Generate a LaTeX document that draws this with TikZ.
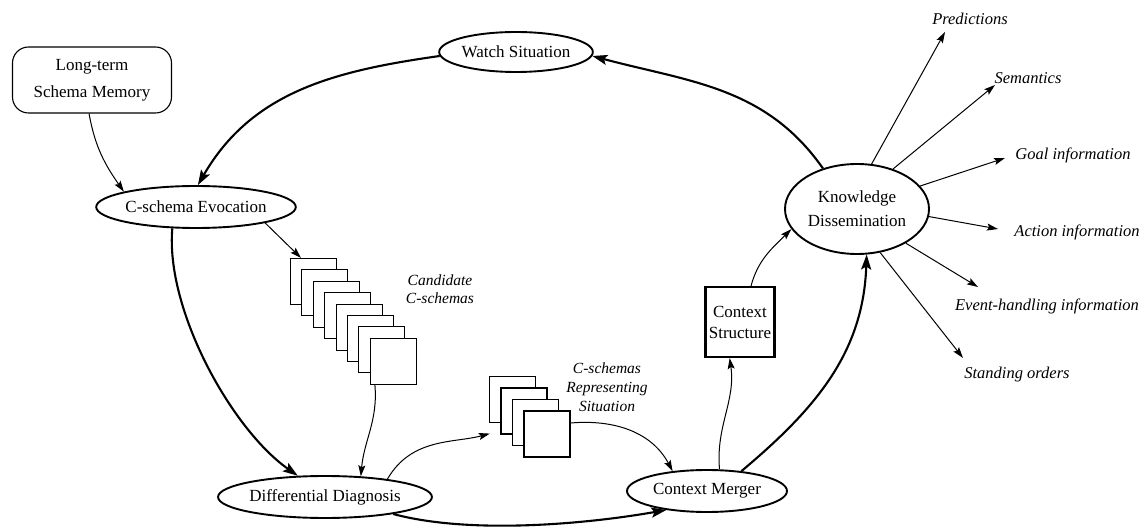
\documentclass[tikz,border=0pt]{standalone}
\usepackage{fontspec}
\setmainfont{Liberation Serif}
\usetikzlibrary{shapes.geometric,arrows.meta}
\begin{document}
\begin{tikzpicture}[x=1pt,y=-1pt,
  proc/.style={ellipse,draw,line width=1.9pt,inner sep=0pt,font=\fontsize{17}{20}\selectfont},
  sq/.style={draw,fill=white,line width=1.1pt,minimum width=46pt,minimum height=46pt,inner sep=0pt},
  lab/.style={font=\fontsize{16.5}{20}\selectfont\itshape,inner sep=0pt},
  cyc/.style={line width=2.1pt,-{Stealth[length=15pt,width=10pt,inset=3pt]}},
  thin/.style={line width=1pt,-{Stealth[length=11pt,width=7pt,inset=2pt]}}
]
\useasboundingbox (0,0) rectangle (1146,529);
% nodes
\node[draw,rounded corners=16pt,line width=1.1pt,minimum width=159pt,minimum height=66pt,align=center,font=\fontsize{17}{27}\selectfont] (lt) at (92,80) {Long-term\\Schema Memory};
\node[proc,minimum width=182pt,minimum height=42pt] (ce) at (196,207) {C-schema Evocation};
\node[proc,minimum width=152pt,minimum height=40pt] (ws) at (516,52) {Watch Situation};
\node[proc,minimum width=144pt,minimum height=90pt,align=center,font=\fontsize{17}{24}\selectfont] (kd) at (857,209) {Knowledge\\Dissemination};
\node[proc,minimum width=190pt,minimum height=42pt] (dd) at (325,497) {Differential Diagnosis};
\node[proc,minimum width=160pt,minimum height=42pt] (cm) at (707,491) {Context Merger};
\node[draw,line width=2.1pt,minimum width=69pt,minimum height=70pt,inner sep=0pt,align=center,font=\fontsize{17}{21}\selectfont] (cs) at (740,322) {Context\\Structure};
% candidate stack
\foreach \i in {1,...,8}{
  \node[sq] (c\i) at ({313.5+11.4*(\i-1)},{281.5+11.4*(\i-1)}) {};
}
\foreach \i in {1,...,4}{
  \node[sq] (r\i) at ({512.5+11.5*(\i-1)},{399.5+11.5*(\i-1)}) {};
}
\node[font=\fontsize{15.5}{18}\selectfont\itshape,align=center] (cl) at (440,289) {Candidate\\C-schemas};
\node[font=\fontsize{15.5}{19}\selectfont\itshape,align=center] (rl) at (607,387) {C-schemas\\Representing\\Situation};
% output labels
\node[lab] (p1) at (970,19) {Predictions};
\node[lab] (p2) at (1028,78) {Semantics};
\node[lab] (p3) at (1073,155) {Goal information};
\node[lab] (p4) at (1077,232) {Action information};
\node[lab] (p5) at (1047,306) {Event-handling information};
\node[lab] (p6) at (1017,375) {Standing orders};
\coordinate (e1) at (945,32);
\coordinate (e2) at (995,85);
\coordinate (e3) at (1005,158);
\coordinate (e4) at (998,229);
\coordinate (e5) at (978,287);
\coordinate (e6) at (963,358);
% main cycle
\draw[cyc] (kd.130) to[out=125,in=-15] (ws.-3);
\draw[cyc] (ws.183) to[out=188,in=60] (ce.85);
\draw[cyc] (ce.222) to[out=-95,in=145,looseness=0.75] (dd.142);
\draw[cyc] (dd.-14) to[out=-15,in=190,looseness=0.75] (cm.205);
\draw[cyc] (cm.30) to[out=40,in=-92] (kd.-78);
% thin connectors
\draw[thin] (lt.265) to[out=-80,in=125] (ce.168);
\draw[thin] (ce.-13) -- (c1.118);
\draw[thin] (c8.232) to[out=-85,in=85] (dd.30);
\draw[thin,shorten >=11pt] (dd.16) to[out=60,in=195] (r2.220);
\draw[thin] (r4.25) to[out=5,in=118] (cm.150);
\draw[thin] (cm.60) to[out=95,in=-82] (cs.254);
\draw[thin] (cs.73) to[out=75,in=225] (kd.197);
% outputs
\draw[thin] (kd.72) -- (e1);
\draw[thin] (kd.48) -- (e2);
\draw[thin] (kd.20) -- (e3);
\draw[thin] (kd.-6) -- (e4);
\draw[thin] (kd.-35) -- (e5);
\draw[thin] (kd.-62) -- (e6);
\end{tikzpicture}
\end{document}
